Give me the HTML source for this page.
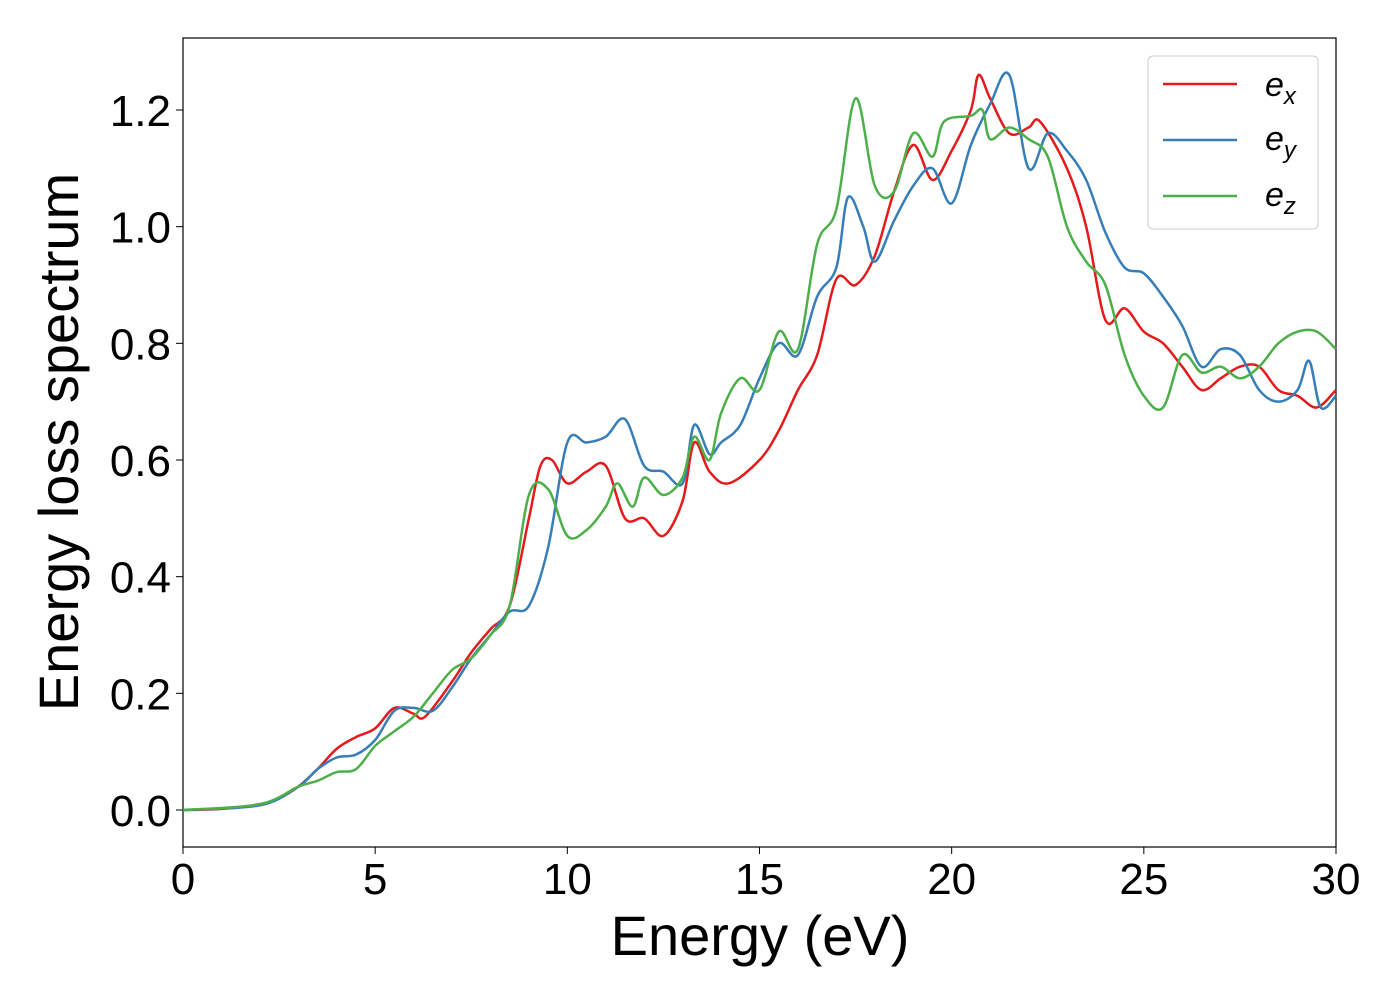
<!DOCTYPE html>
<html><head><meta charset="utf-8"><style>
body{margin:0;background:#fff;}
svg{font-family:"Liberation Sans","DejaVu Sans",sans-serif;}
</style></head><body>
<svg id="chart" width="1400" height="1000">
<rect x="183" y="38" width="1153" height="809" fill="none" stroke="#000" stroke-width="1.2"/>
<g id="xticks"></g>
<g id="yticks"></g>
<g id="lines"></g>
<text x="760" y="955" font-size="56" text-anchor="middle">Energy (eV)</text>
<text transform="translate(78,442) rotate(-90)" font-size="56" text-anchor="middle">Energy loss spectrum</text>
<g>
<rect x="1148" y="56" width="170" height="173" rx="5" fill="#fff" stroke="#ccc"/>
<g><line x1="1163" y1="84" x2="1237" y2="84" stroke="#e41a1c" stroke-width="2.5"/><text x="1265" y="96" font-size="34" font-style="italic">e<tspan font-size="24" dy="8">x</tspan></text></g>
<g><line x1="1163" y1="140" x2="1237" y2="140" stroke="#377eb8" stroke-width="2.5"/><text x="1265" y="150" font-size="34" font-style="italic">e<tspan font-size="24" dy="8">y</tspan></text></g>
<g><line x1="1163" y1="196" x2="1237" y2="196" stroke="#4daf4a" stroke-width="2.5"/><text x="1265" y="206" font-size="34" font-style="italic">e<tspan font-size="24" dy="8">z</tspan></text></g>
</g>
</svg>
<script>
const xTicks=[0,5,10,15,20,25,30];
const yTicks=[0.0,0.2,0.4,0.6,0.8,1.0,1.2];
const exE=[0,1,2,2.5,3,3.5,4,4.5,5,5.5,6,6.3,7,7.5,8,8.5,9,9.3,9.6,10,10.5,11,11.5,12,12.5,13,13.3,13.7,14.2,15,15.5,16,16.5,17,17.5,18,18.5,19,19.5,20,20.5,20.7,21,21.5,22,22.3,23,23.5,24,24.5,25,25.5,26,26.5,27,27.5,28,28.5,29,29.5,30];
const exV=[0,0.002,0.01,0.02,0.04,0.07,0.105,0.125,0.14,0.175,0.165,0.16,0.22,0.27,0.31,0.35,0.5,0.59,0.6,0.56,0.58,0.59,0.5,0.5,0.47,0.53,0.63,0.58,0.56,0.6,0.65,0.72,0.78,0.91,0.9,0.95,1.06,1.14,1.08,1.13,1.2,1.26,1.22,1.16,1.17,1.18,1.1,1.0,0.84,0.86,0.82,0.8,0.76,0.72,0.74,0.76,0.76,0.72,0.71,0.69,0.72];
const eyE=[0,2,3,3.5,4,4.5,5,5.5,6,6.5,7,7.5,8,8.5,9,9.5,10,10.5,11,11.5,12,12.5,13,13.3,13.7,14,14.5,15,15.5,16,16.5,17,17.3,17.7,18,18.5,19,19.5,20,20.5,21,21.5,22,22.5,23,23.5,24,24.5,25,25.5,26,26.5,27,27.5,28,28.5,29,29.3,29.6,30];
const eyV=[0,0.008,0.04,0.07,0.09,0.095,0.12,0.17,0.175,0.17,0.21,0.26,0.3,0.34,0.35,0.45,0.63,0.63,0.64,0.67,0.59,0.58,0.56,0.66,0.61,0.63,0.66,0.74,0.8,0.78,0.88,0.93,1.05,1.0,0.94,1.01,1.07,1.1,1.04,1.14,1.21,1.26,1.1,1.16,1.13,1.08,0.99,0.93,0.92,0.88,0.83,0.76,0.79,0.78,0.72,0.7,0.72,0.77,0.69,0.71];
const ezE=[0,2,3,3.5,4,4.5,5,5.5,6,6.5,7,7.5,8,8.5,9,9.5,10,10.5,11,11.3,11.7,12,12.5,13,13.3,13.7,14,14.5,15,15.5,16,16.5,17,17.5,18,18.5,19,19.5,19.8,20.5,20.8,21,21.5,22,22.5,23,23.5,24,24.5,25,25.5,26,26.5,27,27.5,28,28.5,29,29.5,30];
const ezV=[0,0.01,0.04,0.05,0.065,0.07,0.11,0.135,0.16,0.2,0.24,0.26,0.3,0.35,0.54,0.55,0.47,0.48,0.52,0.56,0.52,0.57,0.54,0.57,0.64,0.6,0.68,0.74,0.72,0.82,0.79,0.97,1.03,1.22,1.07,1.06,1.16,1.12,1.18,1.19,1.2,1.15,1.17,1.15,1.12,1.0,0.94,0.9,0.78,0.71,0.69,0.78,0.75,0.76,0.74,0.76,0.8,0.82,0.82,0.79];
const X=v=>183+v*(1153/30);
const Y=v=>810-v*(700/1.2);
const NS="http://www.w3.org/2000/svg";
const xg=document.getElementById('xticks'),yg=document.getElementById('yticks'),lg=document.getElementById('lines');
xTicks.forEach(t=>{
 const l=document.createElementNS(NS,'line');
 
 
 l.setAttribute('x1',X(t));l.setAttribute('x2',X(t));l.setAttribute('y1',847);l.setAttribute('y2',854);l.setAttribute('stroke','#000');
 xg.appendChild(l);
 const tx=document.createElementNS(NS,'text');
 
 
 tx.setAttribute('x',X(t));tx.setAttribute('y',894);tx.setAttribute('font-size','44');tx.setAttribute('text-anchor','middle');
 tx.textContent=t;xg.appendChild(tx);
});
yTicks.forEach(t=>{
 const l=document.createElementNS(NS,'line');
 
 
 l.setAttribute('x1',176);l.setAttribute('x2',183);l.setAttribute('y1',Y(t));l.setAttribute('y2',Y(t));l.setAttribute('stroke','#000');
 yg.appendChild(l);
 const tx=document.createElementNS(NS,'text');
 
 
 tx.setAttribute('x',171);tx.setAttribute('y',Y(t)+16);tx.setAttribute('font-size','44');tx.setAttribute('text-anchor','end');
 tx.textContent=t.toFixed(1);yg.appendChild(tx);
});
function pathD(xs,vs){
 const p=xs.map((x,i)=>[X(x),Y(vs[i])]);
 let d='M'+p[0][0]+','+p[0][1];
 for(let i=0;i<p.length-1;i++){
  const p0=p[Math.max(0,i-1)],p1=p[i],p2=p[i+1],p3=p[Math.min(p.length-1,i+2)];
  const c1=[p1[0]+(p2[0]-p0[0])/6,p1[1]+(p2[1]-p0[1])/6];
  const c2=[p2[0]-(p3[0]-p1[0])/6,p2[1]-(p3[1]-p1[1])/6];
  d+=' C'+c1+' '+c2+' '+p2;
 }
 return d;
}
[[exE,exV,'#e41a1c','line-ex'],[eyE,eyV,'#377eb8','line-ey'],[ezE,ezV,'#4daf4a','line-ez']].forEach(s=>{
 const p=document.createElementNS(NS,'path');
 
 
 p.setAttribute('d',pathD(s[0],s[1]));p.setAttribute('fill','none');p.setAttribute('stroke',s[2]);p.setAttribute('stroke-width','2.5');
 lg.appendChild(p);
});
</script>
</body></html>
